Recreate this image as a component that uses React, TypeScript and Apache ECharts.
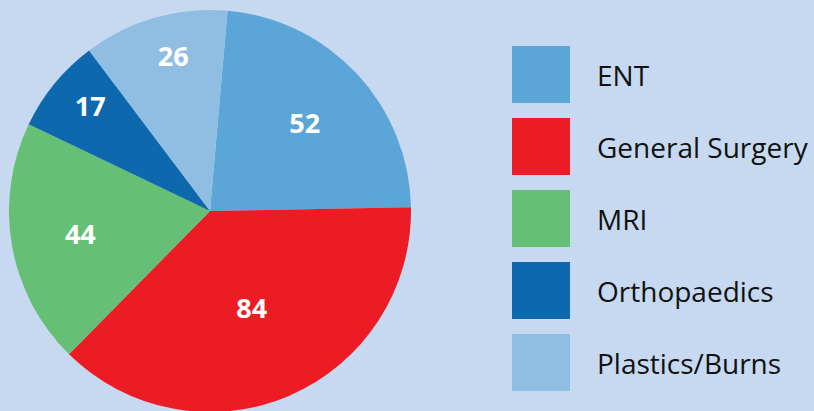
import React, { useEffect, useRef } from "react";
import * as echarts from "echarts";

const categories = ["ENT", "General Surgery", "MRI", "Orthopaedics", "Plastics/Burns"];
const values = [52, 84, 44, 17, 26];
const colors = ["#5ba6d6", "#ed1c24", "#65bf74", "#0d68ad", "#90bee3"];
const labelRadiusFrac = [0.63, 0.51, 0.64, 0.78, 0.78];
const labelAngleShift = [0, 0, 0, -2.2, -2.7];

const START_ANGLE = 85;
const RADIUS = 201;

export default function App() {
  const ref = useRef<HTMLDivElement>(null);
  useEffect(() => {
    document.body.style.margin = "0";
    const chart = echarts.init(ref.current!, null, { renderer: "svg" });
    const total = values.reduce((a, b) => a + b, 0);
    let acc = 0;
    const data = categories.map((name, i) => {
      const span = (values[i] / total) * 360;
      const mid = START_ANGLE - acc - span / 2;
      acc += span;
      const rad = (mid * Math.PI) / 180;
      const target = ((mid + labelAngleShift[i]) * Math.PI) / 180;
      const rr = labelRadiusFrac[i] * RADIUS;
      const half = 0.5 * RADIUS;
      const dx = rr * Math.cos(target) - half * Math.cos(rad);
      const dy = -(rr * Math.sin(target) - half * Math.sin(rad));
      return {
        name,
        value: values[i],
        itemStyle: { color: colors[i] },
        label: { offset: [dx, dy] },
      };
    });
    chart.setOption({
      animation: false,
      backgroundColor: "#c6d9f0",
      legend: {
        orient: "vertical",
        left: 512,
        top: 46,
        padding: 0,
        itemWidth: 58,
        itemHeight: 57,
        itemGap: 15,
        icon: "rect",
        data: categories,
        textStyle: {
          fontFamily: "Open Sans",
          fontSize: 28,
          fontWeight: 500,
          color: "#111111",
          padding: [0, 0, 0, 22],
        },
      },
      series: [
        {
          type: "pie",
          center: [210, 211],
          radius: [0, RADIUS],
          startAngle: START_ANGLE,
          clockwise: true,
          itemStyle: { borderWidth: 0 },
          label: {
            show: true,
            position: "inside",
            formatter: "{c}",
            color: "#ffffff",
            fontFamily: "Open Sans",
            fontWeight: "bold",
            fontSize: 27,
          },
          labelLine: { show: false },
          emphasis: { disabled: true },
          data,
        },
      ],
    });
    return () => chart.dispose();
  }, []);
  return <div ref={ref} style={{ position: "absolute", left: 0, top: 0, width: 814, height: 411 }} />;
}
